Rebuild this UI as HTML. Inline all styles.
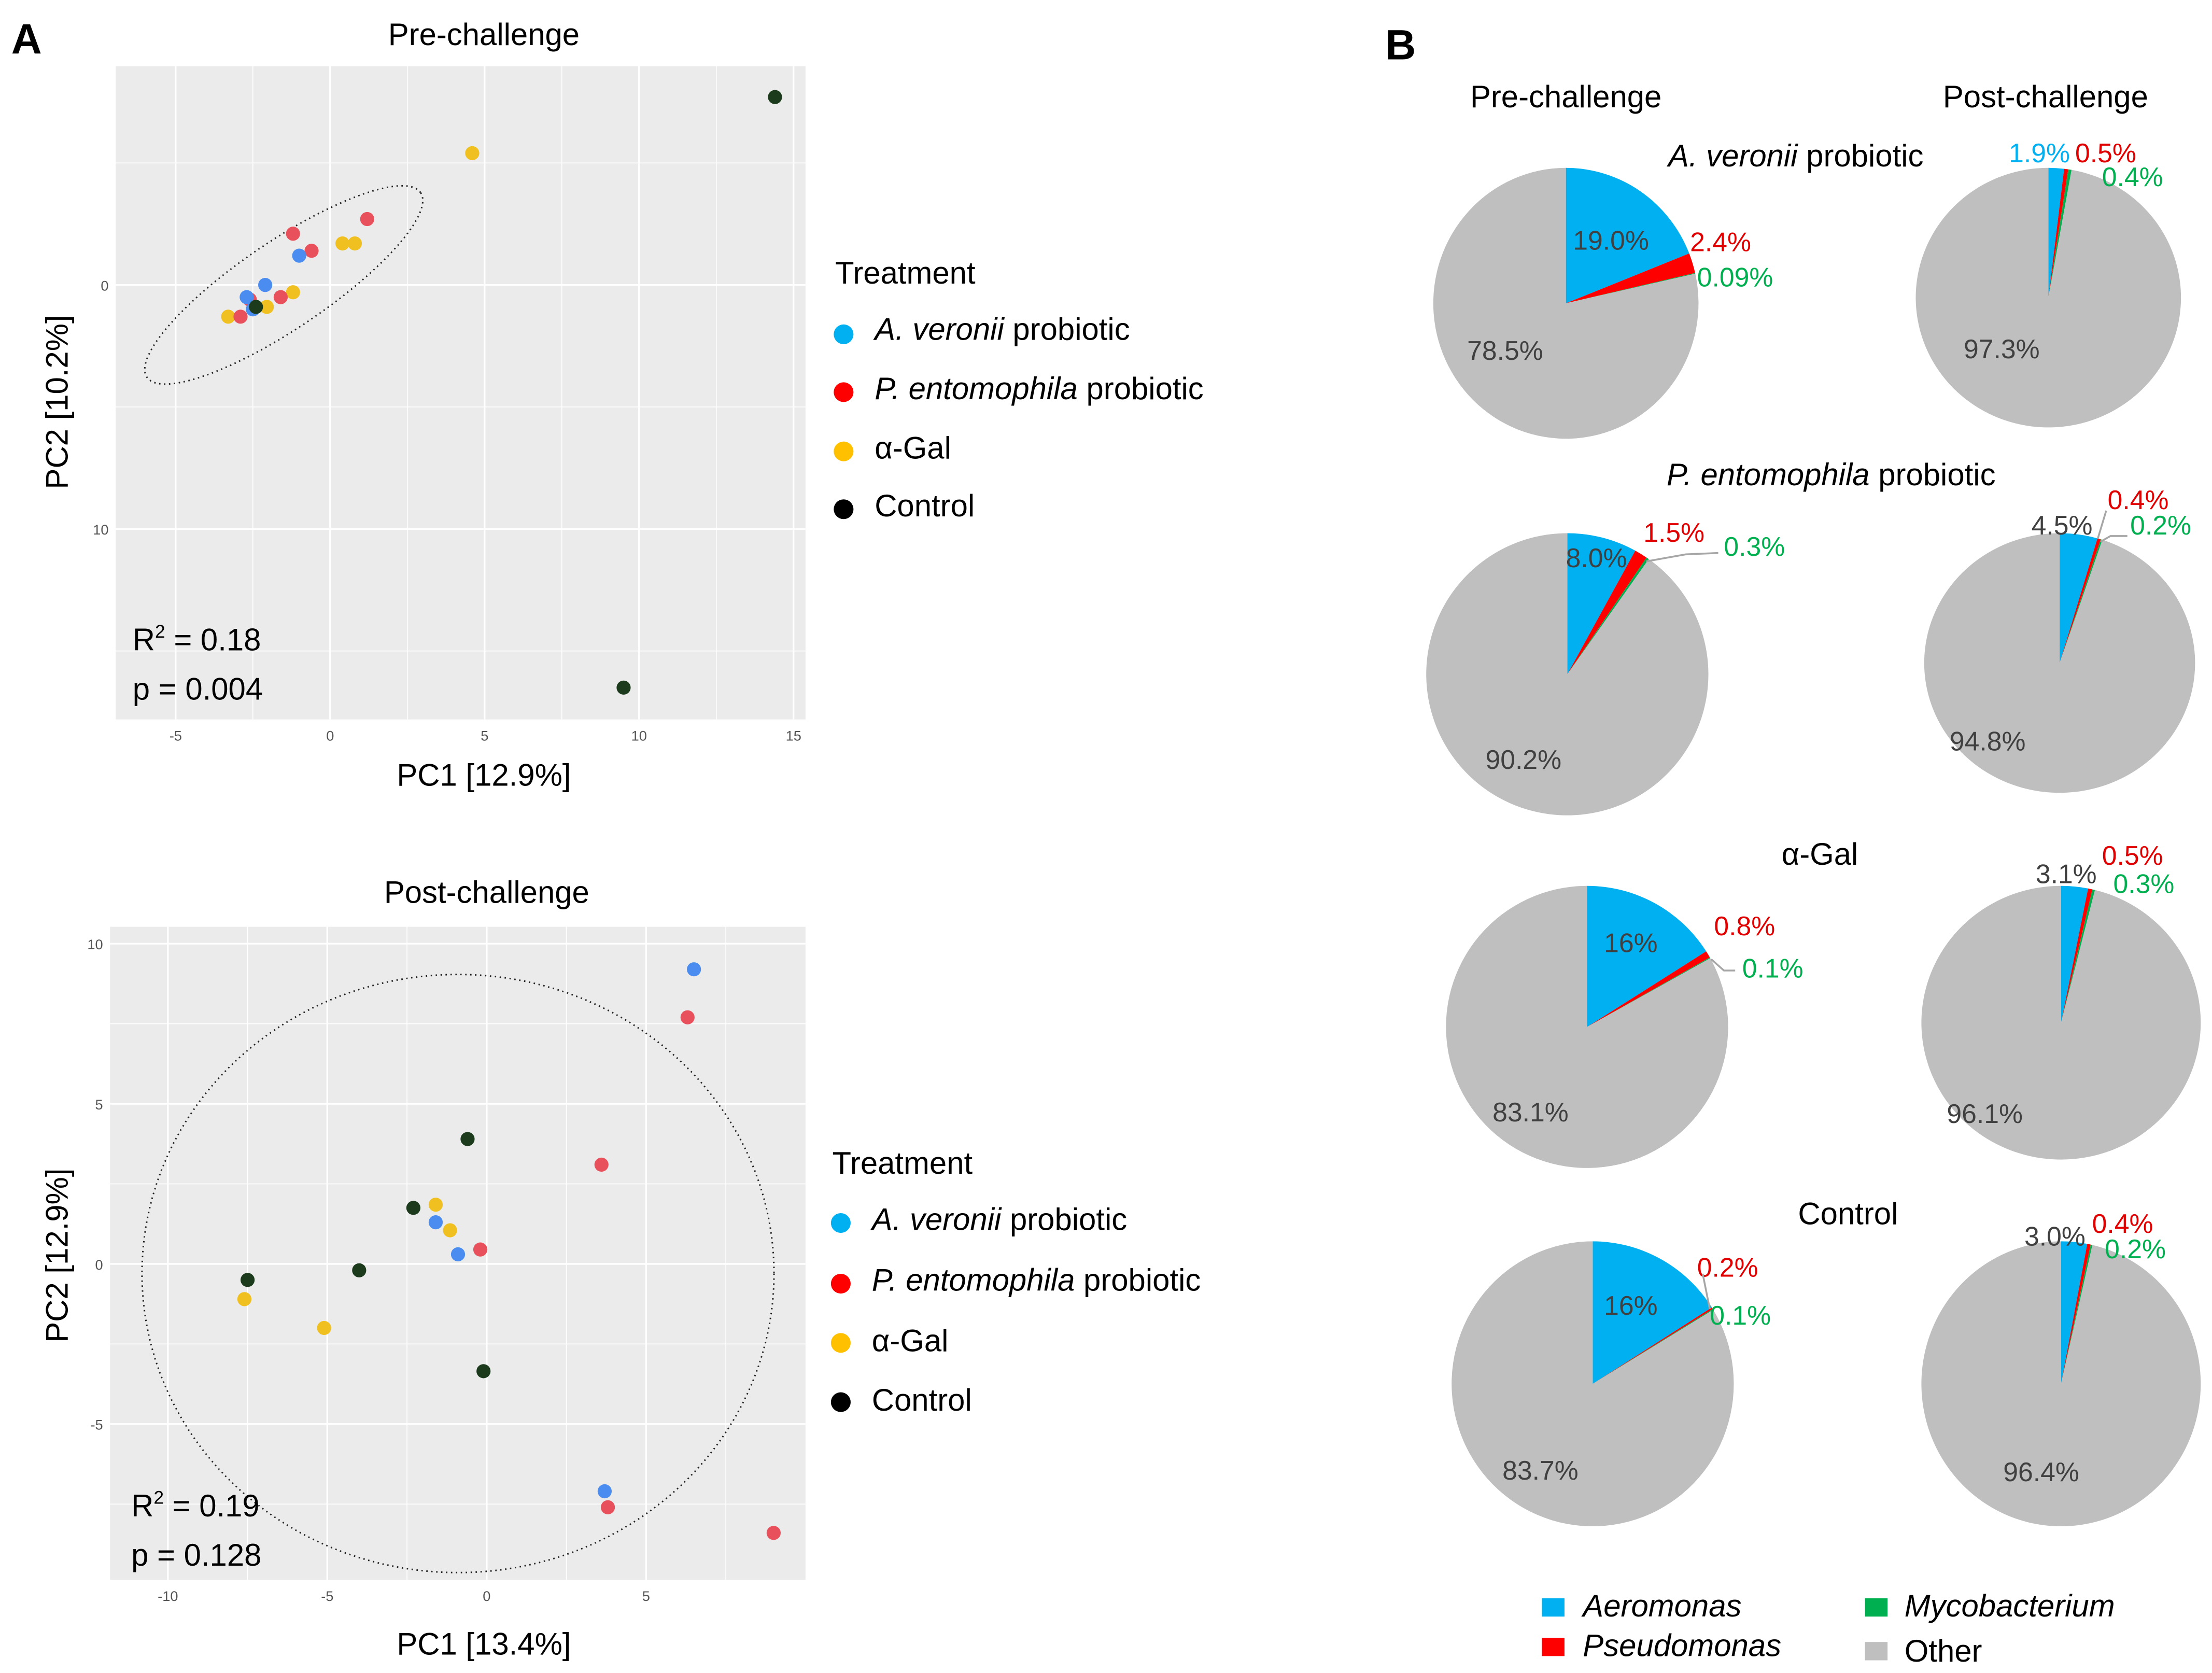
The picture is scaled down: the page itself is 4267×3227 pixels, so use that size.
<!DOCTYPE html>
<html><head><meta charset="utf-8"><style>
html,body{margin:0;padding:0;background:#fff;}
svg{display:block;font-family:"Liberation Sans",Calibri,sans-serif;}
</style></head><body>
<svg id="fig" width="4267" height="3227" viewBox="0 0 1568 1186" preserveAspectRatio="none" xmlns="http://www.w3.org/2000/svg">
<rect width="1568" height="1186" fill="#fff"/>
<text x="8" y="38" font-size="30" font-weight="bold">A</text>
<text x="982" y="42" font-size="30" font-weight="bold">B</text>
<text x="343" y="32" font-size="22" text-anchor="middle">Pre-challenge</text>
<text x="345" y="640" font-size="22" text-anchor="middle">Post-challenge</text>
<text x="343" y="557" font-size="22" text-anchor="middle">PC1 [12.9%]</text>
<text x="343" y="1173" font-size="22" text-anchor="middle">PC1 [13.4%]</text>
<text transform="translate(48,285) rotate(-90)" font-size="22" text-anchor="middle">PC2 [10.2%]</text>
<text transform="translate(48,890) rotate(-90)" font-size="22" text-anchor="middle">PC2 [12.9%]</text>
<g id="preplot"></g>
<g id="postplot"></g>
<text x="94" y="461" font-size="22">R<tspan font-size="13" dy="-9">2</tspan><tspan dy="9"> = 0.18</tspan></text>
<text x="94" y="496" font-size="22">p = 0.004</text>
<text x="93" y="1075" font-size="22">R<tspan font-size="13" dy="-9">2</tspan><tspan dy="9"> = 0.19</tspan></text>
<text x="93" y="1110" font-size="22">p = 0.128</text>
<g>
<text x="592" y="201" font-size="22">Treatment</text>
<circle cx="598" cy="237" r="7" fill="#00b0f0"/>
<text x="620" y="241" font-size="22"><tspan font-style="italic">A. veronii</tspan> probiotic</text>
<circle cx="598" cy="278" r="7" fill="#ff0000"/>
<text x="620" y="283" font-size="22"><tspan font-style="italic">P. entomophila</tspan> probiotic</text>
<circle cx="598" cy="320" r="7" fill="#ffc000"/>
<text x="620" y="325" font-size="22">α-Gal</text>
<circle cx="598" cy="361" r="7" fill="#000"/>
<text x="620" y="366" font-size="22">Control</text>
</g>
<g>
<text x="590" y="832" font-size="22">Treatment</text>
<circle cx="596" cy="867" r="7" fill="#00b0f0"/>
<text x="618" y="872" font-size="22"><tspan font-style="italic">A. veronii</tspan> probiotic</text>
<circle cx="596" cy="910" r="7" fill="#ff0000"/>
<text x="618" y="915" font-size="22"><tspan font-style="italic">P. entomophila</tspan> probiotic</text>
<circle cx="596" cy="952" r="7" fill="#ffc000"/>
<text x="618" y="958" font-size="22">α-Gal</text>
<circle cx="596" cy="994" r="7" fill="#000"/>
<text x="618" y="1000" font-size="22">Control</text>
</g>
<text x="1110" y="76" font-size="22" text-anchor="middle">Pre-challenge</text>
<text x="1450" y="76" font-size="22" text-anchor="middle">Post-challenge</text>
<text x="1273" y="118" font-size="22" text-anchor="middle"><tspan font-style="italic">A. veronii</tspan> probiotic</text>
<text x="1298" y="344" font-size="22" text-anchor="middle"><tspan font-style="italic">P. entomophila</tspan> probiotic</text>
<text x="1290" y="613" font-size="22" text-anchor="middle">α-Gal</text>
<text x="1310" y="868" font-size="22" text-anchor="middle">Control</text>
<g id="pies"></g>
<g stroke="#a6a6a6" stroke-width="1.3" fill="none">
<polyline points="1167,398 1195,393 1218,392"/>
<polyline points="1487,382 1493,362"/>
<polyline points="1489,384 1496,380 1508,380"/>
<polyline points="1213,680 1222,688 1230,688"/>
<polyline points="1212,928 1207,903"/>
</g>
<g>
<rect x="1093" y="1133" width="16" height="13" fill="#00b0f0"/>
<text x="1122" y="1146" font-size="22" font-style="italic">Aeromonas</text>
<rect x="1093" y="1161" width="16" height="13" fill="#ff0000"/>
<text x="1122" y="1174" font-size="22" font-style="italic">Pseudomonas</text>
<rect x="1322" y="1133" width="16" height="13" fill="#00b050"/>
<text x="1350" y="1146" font-size="22" font-style="italic">Mycobacterium</text>
<rect x="1322" y="1164" width="16" height="13" fill="#bfbfbf"/>
<text x="1350" y="1178" font-size="22">Other</text>
</g>
</svg>
<script>
const NS='http://www.w3.org/2000/svg';
const groupColors=['#4a8cf0','#e8505b','#f0c020','#1c3a1c'];
// Pre-challenge PCA data (PC1, PC2), group index
const prePC1=[14.4,9.5,4.6,0.4,0.8,-1.2,-2.05,-3.3,1.2,-1.2,-0.6,-1.6,-2.6,-2.9,-1.0,-2.1,-2.7,-2.5,-2.4];
const prePC2=[-7.7,16.5,-5.4,-1.7,-1.7,0.3,0.9,1.3,-2.7,-2.1,-1.4,0.5,0.6,1.3,-1.2,0,0.5,1.0,0.9];
const preGroup=[3,3,2,2,2,2,2,2,1,1,1,1,1,1,0,0,0,0,3];
const preXTicks=[-5,0,5,10,15];
const preYTicks=[0,10];
// Post-challenge PCA data
const postPC1=[6.5,-1.6,-0.9,3.7,6.3,3.6,-0.2,3.8,9.0,-1.6,-1.15,-7.6,-5.1,-0.6,-2.3,-4.0,-7.5,-0.1];
const postPC2=[9.2,1.3,0.3,-7.1,7.7,3.1,0.45,-7.6,-8.4,1.85,1.05,-1.1,-2.0,3.9,1.75,-0.2,-0.5,-3.35];
const postGroup=[0,0,0,0,1,1,1,1,1,2,2,2,2,3,3,3,3,3];
const postXTicks=[-10,-5,0,5];
const postYTicks=[10,5,0,-5];
// Pie data: Aeromonas, Pseudomonas, Mycobacterium, Other
const pieNames=['averonii-pre','averonii-post','pentomophila-pre','pentomophila-post','agal-pre','agal-post','control-pre','control-post'];
const pieAeromonas=[19.0,1.9,8.0,4.5,16,3.1,16,3.0];
const piePseudomonas=[2.4,0.5,1.5,0.4,0.8,0.5,0.2,0.4];
const pieMycobacterium=[0.09,0.4,0.3,0.2,0.1,0.3,0.1,0.2];
const pieOther=[78.5,97.3,90.2,94.8,83.1,96.1,83.7,96.4];
const pieLabelA=['19.0%','1.9%','8.0%','4.5%','16%','3.1%','16%','3.0%'];
const pieLabelP=['2.4%','0.5%','1.5%','0.4%','0.8%','0.5%','0.2%','0.4%'];
const pieLabelM=['0.09%','0.4%','0.3%','0.2%','0.1%','0.3%','0.1%','0.2%'];
const pieLabelO=['78.5%','97.3%','90.2%','94.8%','83.1%','96.1%','83.7%','96.4%'];

function mk(tag,attrs,parent){const e=document.createElementNS(NS,tag);for(const k in attrs)e.setAttribute(k,attrs[k]);parent.appendChild(e);return e;}

function drawPCA(g,box,xs,ys,gr,xt,yt,xScale,yScale,minorX,minorY,ell){
  const bg=mk('rect',{x:box.x0,y:box.y0,width:box.x1-box.x0,height:box.y1-box.y0,fill:'#ebebeb'},g);
  
  
  minorX.forEach(v=>{const l=mk('line',{x1:xScale(v),x2:xScale(v),y1:box.y0,y2:box.y1,stroke:'#fff','stroke-width':0.6},g);});
  minorY.forEach(v=>{const l=mk('line',{y1:yScale(v),y2:yScale(v),x1:box.x0,x2:box.x1,stroke:'#fff','stroke-width':0.6},g);});
  xt.forEach(v=>{const X=xScale(v);const l=mk('line',{x1:X,x2:X,y1:box.y0,y2:box.y1,stroke:'#fff','stroke-width':1.2},g);
    const t=mk('text',{x:X,y:box.y1+15,'font-size':10,fill:'#555','text-anchor':'middle'},g);t.textContent=String(v);});
  yt.forEach(v=>{const Y=yScale(v);const l=mk('line',{y1:Y,y2:Y,x1:box.x0,x2:box.x1,stroke:'#fff','stroke-width':1.2},g);
    const t=mk('text',{x:box.x0-5,y:Y+4,'font-size':10,fill:'#555','text-anchor':'end'},g);t.textContent=String(v);});
  const e=mk('ellipse',{cx:ell.cx,cy:ell.cy,rx:ell.rx,ry:ell.ry,transform:`rotate(${ell.rot} ${ell.cx} ${ell.cy})`,fill:'none',stroke:'#222','stroke-width':1.1,'stroke-dasharray':'1 2.5'},g);
  
  
  xs.forEach((v,i)=>{const c=mk('circle',{cx:xScale(v),cy:yScale(ys[i]),r:5,fill:groupColors[gr[i]]},g);
    
    });
}
const preX=v=>234+v*21.9, preY=v=>202+v*17.3;
drawPCA(document.getElementById('preplot'),{x0:82,x1:571,y0:47,y1:510},prePC1,prePC2,preGroup,preXTicks,preYTicks,preX,preY,[-2.5,2.5,7.5,12.5],[-5,5,15],{cx:preX(-1.5),cy:preY(0),rx:117,ry:31,rot:-34});
const postX=v=>345+v*22.6, postY=v=>896-v*22.7;
drawPCA(document.getElementById('postplot'),{x0:78,x1:571,y0:657,y1:1120},postPC1,postPC2,postGroup,postXTicks,postYTicks,postX,postY,[-7.5,-2.5,2.5,7.5],[7.5,2.5,-2.5,-7.5],{cx:postX(-0.9),cy:postY(-0.3),rx:224,ry:212,rot:0});

// pies
const pieCx=[1110,1452,1111,1460,1125,1461,1129,1461];
const pieCy=[215,211,478,470,728,725,981,981];
const pieRx=[94,94,100,96,100,99,100,99];
const pieRy=[96,92,100,92,100,97,101,101];
const sliceColors=['#00b0f0','#ff0000','#00b050','#bfbfbf'];
const pg=document.getElementById('pies');
function pt(i,a){return [pieCx[i]+pieRx[i]*Math.sin(a),pieCy[i]-pieRy[i]*Math.cos(a)];}
pieNames.forEach((nm,i)=>{
  const vals=[pieAeromonas[i],piePseudomonas[i],pieMycobacterium[i],pieOther[i]];
  const tot=vals.reduce((a,b)=>a+b,0);
  let a=0;
  vals.forEach((v,k)=>{
    const a2=a+v/tot*2*Math.PI;
    const p1=pt(i,a),p2=pt(i,a2);
    const large=(a2-a)>Math.PI?1:0;
    const p=mk('path',{d:`M${pieCx[i]},${pieCy[i]} L${p1[0]},${p1[1]} A${pieRx[i]},${pieRy[i]} 0 ${large} 1 ${p2[0]},${p2[1]} Z`,fill:sliceColors[k]},pg);
    
    
    a=a2;
  });
});
const labelPos=[
 [[1115,177],[1198,178],[1203,203],[1040,255]],
 [[1424,115],[1471,115],[1490,132],[1392,254]],
 [[1110,402],[1165,384],[1222,394],[1053,545]],
 [[1440,379],[1494,361],[1510,379],[1382,532]],
 [[1137,675],[1215,663],[1235,693],[1058,795]],
 [[1443,626],[1490,613],[1498,633],[1380,796]],
 [[1137,932],[1203,905],[1212,939],[1065,1049]],
 [[1435,883],[1483,874],[1492,892],[1420,1050]]
];
const labelColors=['#404040','#e00000','#00b050','#404040'];
pieNames.forEach((nm,i)=>{
  const texts=[pieLabelA[i],pieLabelP[i],pieLabelM[i],pieLabelO[i]];
  texts.forEach((s,k)=>{
    let col=labelColors[k];
    if(i===1&&k===0)col='#00b0f0';
    const t=mk('text',{x:labelPos[i][k][0],y:labelPos[i][k][1],'font-size':19,fill:col},pg);
    t.textContent=s;
    
    
  });
});
</script>
</body></html>
